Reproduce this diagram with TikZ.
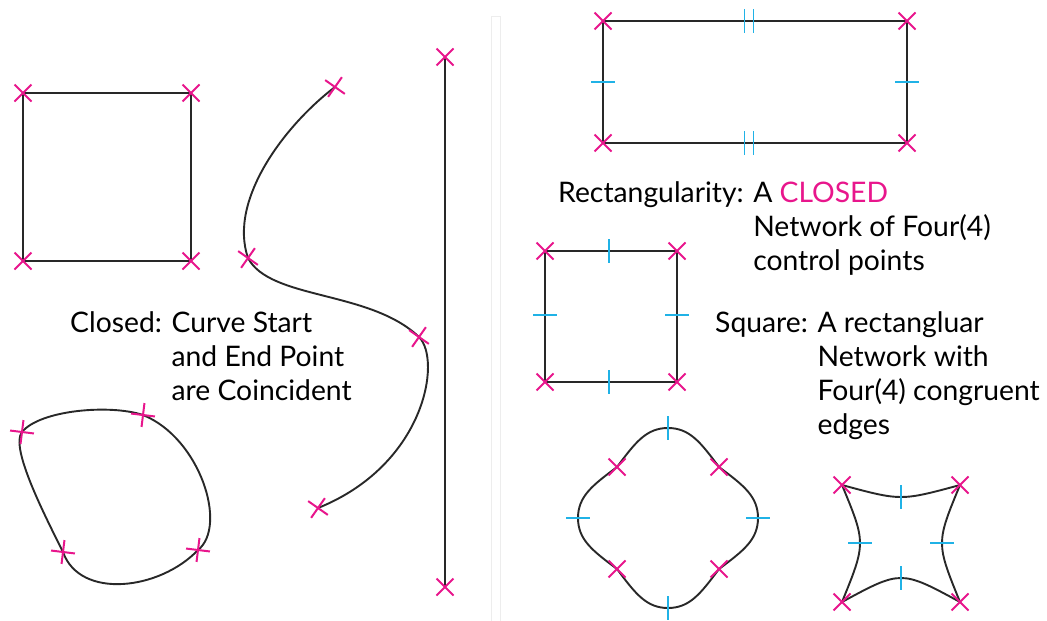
\documentclass[tikz,border=0pt]{standalone}
\usepackage{fontspec}
\setmainfont{Lato}
\usetikzlibrary{shapes.misc}
\definecolor{markpink}{RGB}{232,22,140}
\definecolor{tickblue}{RGB}{32,178,230}
\definecolor{inkline}{RGB}{40,40,40}
\begin{document}
\begin{tikzpicture}[x=1pt,y=-1pt,
  edge/.style={draw=inkline,line width=1.9pt},
  xmark/.style={cross out,draw=markpink,line width=2pt,minimum size=15pt,inner sep=0pt},
  tick/.style={draw=tickblue,line width=1.7pt},
  lbl/.style={anchor=base west,inner sep=0pt,font=\fontsize{28.3}{34}\selectfont}]
  \useasboundingbox (0,0) rectangle (1047,621);
  % faint divider
  \draw[black!7,line width=0.8pt] (491,16) rectangle (500,625);
  % left square
  \coordinate (sqA) at (23,93);  \coordinate (sqB) at (191,93);
  \coordinate (sqC) at (191,261); \coordinate (sqD) at (23,261);
  \draw[edge] (sqA) -- (sqB) -- (sqC) -- (sqD) -- cycle;
  % closed blob
  \coordinate (blA) at (22,432);  \coordinate (blB) at (143,415);
  \coordinate (blC) at (198,550); \coordinate (blD) at (63,552);
  \draw[edge] (blA) .. controls (40,410) and (110,404) .. (blB)
    .. controls (200,438) and (228,526) .. (blC)
    .. controls (160,590) and (80,600) .. (blD)
    .. controls (43,512) and (10,447) .. (blA);
  % open S curve
  \coordinate (crA) at (335,87);  \coordinate (crB) at (248,258);
  \coordinate (crC) at (419,337); \coordinate (crD) at (318,508);
  \draw[edge] (crA) .. controls (285,125) and (228,200) .. (crB)
    .. controls (270,300) and (370,290) .. (crC)
    .. controls (442,360) and (425,465) .. (crD);
  % straight line
  \coordinate (lnA) at (445,57); \coordinate (lnB) at (445,587);
  \draw[edge] (lnA) -- (lnB);
  % rectangle
  \coordinate (rcA) at (603,21);  \coordinate (rcB) at (907,21);
  \coordinate (rcC) at (907,143); \coordinate (rcD) at (603,143);
  \draw[edge] (rcA) -- (rcB) -- (rcC) -- (rcD) -- cycle;
  \draw[tick] (749,21) ++(-4.5,-12) -- ++(0,24) (749,21) ++(4.5,-12) -- ++(0,24);
  \draw[tick] (749,143) ++(-4.5,-12) -- ++(0,24) (749,143) ++(4.5,-12) -- ++(0,24);
  \draw[tick] (603,82) ++(-12,0) -- ++(24,0);
  \draw[tick] (907,82) ++(-12,0) -- ++(24,0);
  % square
  \coordinate (qsA) at (545,251); \coordinate (qsB) at (677,251);
  \coordinate (qsC) at (677,382); \coordinate (qsD) at (545,382);
  \draw[edge] (qsA) -- (qsB) -- (qsC) -- (qsD) -- cycle;
  \draw[tick] (609,251) ++(0,-12) -- ++(0,24);
  \draw[tick] (609,382) ++(0,-12) -- ++(0,24);
  \draw[tick] (545,315) ++(-12,0) -- ++(24,0);
  \draw[tick] (677,315) ++(-12,0) -- ++(24,0);
  % rounded diamond
  \coordinate (dmT) at (668,428); \coordinate (dmR) at (758,518);
  \coordinate (dmB) at (668,608); \coordinate (dmL) at (578,518);
  \coordinate (dmA) at (719,467); \coordinate (dmC) at (719,569);
  \coordinate (dmE) at (617,569); \coordinate (dmG) at (617,467);
  \draw[edge] (dmT) .. controls +(22,0) and +(-18,-24) .. (dmA)
    .. controls +(24,18) and +(0,-22) .. (dmR)
    .. controls +(0,22) and +(24,-18) .. (dmC)
    .. controls +(-18,24) and +(22,0) .. (dmB)
    .. controls +(-22,0) and +(18,24) .. (dmE)
    .. controls +(-24,-18) and +(0,22) .. (dmL)
    .. controls +(0,-22) and +(-24,18) .. (dmG)
    .. controls +(18,-24) and +(-22,0) .. (dmT);
  \draw[tick] (dmT) ++(0,-12) -- ++(0,24);
  \draw[tick] (dmB) ++(0,-12) -- ++(0,24);
  \draw[tick] (dmL) ++(-12,0) -- ++(24,0);
  \draw[tick] (dmR) ++(-12,0) -- ++(24,0);
  % concave square
  \coordinate (cvA) at (842,485); \coordinate (cvB) at (960,485);
  \coordinate (cvC) at (960,602); \coordinate (cvD) at (842,602);
  \draw[edge] (cvA) .. controls (901,501) .. (cvB)
    .. controls (936,543) .. (cvC)
    .. controls (901,570) .. (cvD)
    .. controls (866,543) .. (cvA);
  \draw[tick] (901,497) ++(0,-12) -- ++(0,24);
  \draw[tick] (901,578) ++(0,-12) -- ++(0,24);
  \draw[tick] (860,543) ++(-12,0) -- ++(24,0);
  \draw[tick] (942,543) ++(-12,0) -- ++(24,0);
  % control point marks
  \foreach \p in {sqA,sqB,sqC,sqD,lnA,lnB,rcA,rcB,rcC,rcD,qsA,qsB,qsC,qsD,dmA,dmC,dmE,dmG,cvA,cvB,cvC,cvD}
    \node[xmark] (m\p) at (\p) {};
  \foreach \p in {blA,blB,blC,blD}
    \node[xmark,rotate=38] (m\p) at (\p) {};
  \foreach \p in {crA,crB,crC,crD}
    \node[xmark,rotate=10] (m\p) at (\p) {};
  % labels
  \node[lbl] (closed) at (70,332) {Closed: \begin{tabular}[t]{@{}l@{}}Curve Start\\and End Point\\are Coincident\end{tabular}};
  \node[lbl] (rectdef) at (558,202) {Rectangularity: \begin{tabular}[t]{@{}l@{}}A \textcolor{markpink}{CLOSED}\\Network of Four(4)\\control points\end{tabular}};
  \node[lbl] (sqdef) at (715,332) {Square: \begin{tabular}[t]{@{}l@{}}A rectangluar\\Network with\\Four(4) congruent\\edges\end{tabular}};
\end{tikzpicture}
\end{document}
